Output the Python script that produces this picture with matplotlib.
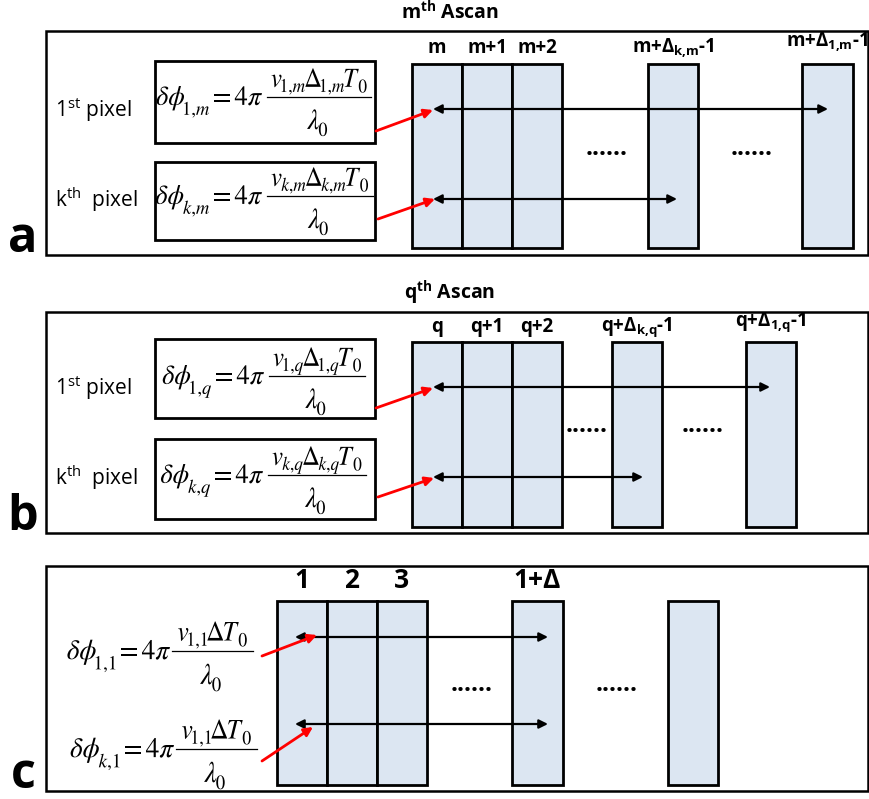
import matplotlib
matplotlib.use("Agg")
import matplotlib.pyplot as plt
from matplotlib.patches import Rectangle, PathPatch
from matplotlib.textpath import TextPath
from matplotlib.transforms import Affine2D
from matplotlib.font_manager import FontProperties

plt.rcParams["font.family"] = ["Open Sans", "DejaVu Sans"]
plt.rcParams["mathtext.fontset"] = "custom"
plt.rcParams["mathtext.rm"] = "Open Sans"
plt.rcParams["mathtext.bf"] = "Open Sans:bold"
plt.rcParams["mathtext.it"] = "Open Sans:italic"

FILL = "#dce6f2"
W, H = 870, 799

# panel layout (pixel coords, y down)
PANELS = ["a", "b", "c"]
OUTER_TOP = [31, 312, 566]
OUTER_BOT = [255, 533, 791]
TITLES = [r"m$^{\mathbf{th}}$ Ascan", r"q$^{\mathbf{th}}$ Ascan", None]
TITLE_Y = [12, 292, None]

# A-scan columns: (x0, x1) per panel
COLS = [
    [(412, 462), (462, 512), (512, 562), (648, 698), (802, 853)],
    [(412, 462), (462, 512), (512, 562), (612, 662), (746, 796)],
    [(277, 327), (327, 377), (377, 427), (512, 563), (668, 718)],
]
COL_TOP = [64, 342, 601]
COL_BOT = [248, 527, 785]
COL_LABELS = [
    ["m", "m+1", "m+2", r"m+Δ$_{\mathbf{k{,}m}}$-1", r"m+Δ$_{\mathbf{1{,}m}}$-1"],
    ["q", "q+1", "q+2", r"q+Δ$_{\mathbf{k{,}q}}$-1", r"q+Δ$_{\mathbf{1{,}q}}$-1"],
    ["1", "2", "3", "1+Δ", None],
]
LABEL_Y = [[48, 48, 48, 48, 42], [327, 327, 327, 327, 322], [580, 580, 580, 580, None]]

# black double arrows (y, x_start, x_end)
ARROWS = [
    [(109, 433, 828), (199, 433, 677)],
    [(387, 433, 770), (477, 433, 643)],
    [(637, 295, 548), (724, 295, 548)],
]
# red arrows (x0, y0, x1, y1)
RED = [
    [(376, 131, 433, 110), (378, 219, 435, 199)],
    [(376, 408, 433, 388), (378, 497, 434, 478)],
    [(262, 656, 317, 635), (262, 761, 313, 727)],
]
DOTS = [[(607, 151), (752, 151)], [(587, 428), (703, 428)], [(472, 687), (617, 687)]]

# equation subscripts: delta-phi subscript, v subscript, Delta subscript
EQ_PHI_SUB = [["1{,}m", "k{,}m"], ["1{,}q", "k{,}q"], ["1{,}1", "k{,}1"]]
EQ_V_SUB = [["1{,}m", "k{,}m"], ["1{,}q", "k{,}q"], ["1{,}1", "1{,}1"]]
EQ_D_SUB = [["1{,}m", "k{,}m"], ["1{,}q", "k{,}q"], [None, None]]
EQ_BAR = [[(267, 97), (267, 196)], [(269, 376), (268, 475)], [(172, 651), (176, 749)]]
BAR_PAD = [9, 9, 12]
LEFT_GAP = [5, 5, 2]
EM_SCALE = [1.0, 1.0, 1.03]
EQ_BOXES = [[(155, 61, 375, 143), (155, 162, 375, 240)],
            [(155, 339, 375, 418), (155, 439, 375, 519)],
            None]
PIX_LABELS = [r"1$^{\mathrm{st}}$ pixel", r"k$^{\mathrm{th}}$  pixel"]
PIX_Y = [[110, 200], [388, 478]]

EM_L, EM_N, EM_D = 27.5, 27.5, 29.0   # glyph sizes (px) of left side, numerator, denominator

fig = plt.figure(figsize=(W / 100, H / 100), dpi=100, facecolor="white")
ax = fig.add_axes([0, 0, 1, 1])
ax.set_xlim(0, W); ax.set_ylim(H, 0); ax.set_axis_off()

PROP = FontProperties(family="DejaVu Serif", math_fontfamily="stix")


def left_tokens(sub):
    # (mathtext, size scale, drop in em, gap after in em)
    return [(r"$\delta\phi$", 1.0, 0.0, 0.0), ("$" + sub + "$", 0.7, 0.36, 0.2),
            ("$=$", 1.0, 0.0, 0.17), (r"$4\pi$", 1.0, 0.0, 0.0)]


def num_tokens(vsub, dsub):
    toks = [("$v$", 1.0, 0.0, 0.0), ("$" + vsub + "$", 0.7, 0.18, 0.02)]
    if dsub:
        toks += [(r"$\Delta$", 1.0, 0.0, 0.0), ("$" + dsub + "$", 0.7, 0.18, 0.02)]
    else:
        toks += [(r"$\Delta$", 1.0, 0.0, 0.03)]
    toks += [("$T$", 1.0, 0.0, 0.0), ("$0$", 0.7, 0.2, 0.0)]
    return toks


DEN_TOKENS = [(r"$\lambda$", 1.0, 0.0, 0.0), ("$0$", 0.68, 0.24, 0.0)]


def layout(tokens, em, sx):
    items, x = [], 0.0
    for s, sc, drop, gap in tokens:
        p = TextPath((0, 0), s, size=em * sc, prop=PROP)
        e = p.get_extents()
        items.append((p, x - e.x0 * sx, drop * em))
        x += e.width * sx + gap * em
    return items, x


def draw_tokens(tokens, em, sx, x, baseline, ha):
    items, w = layout(tokens, em, sx)
    x0 = x - {"left": 0, "right": w, "center": w / 2}[ha]
    for p, dx, dy in items:
        tr = Affine2D().scale(sx, -1).translate(x0 + dx, baseline + dy)
        ax.add_patch(PathPatch(tr.transform_path(p), fc="black", lw=0))
    return w


SX_L = 105 / layout(left_tokens(EQ_PHI_SUB[0][0]), EM_L, 1.0)[1]
SX_N = 95 / layout(num_tokens(EQ_V_SUB[0][0], EQ_D_SUB[0][0]), EM_N, 1.0)[1]
SX_D = 20 / layout(DEN_TOKENS, EM_D, 1.0)[1]


def draw_eq(p, j):
    bx, by = EQ_BAR[p][j]
    k = EM_SCALE[p]
    draw_tokens(left_tokens(EQ_PHI_SUB[p][j]), EM_L * k, SX_L, bx - LEFT_GAP[p],
                by + 8 * k, "right")
    ntok = num_tokens(EQ_V_SUB[p][j], EQ_D_SUB[p][j])
    _, wnum = layout(ntok, EM_N * k, SX_N)
    wbar = wnum + BAR_PAD[p]
    draw_tokens(ntok, EM_N * k, SX_N, bx + wbar / 2, by - 10 * k, "center")
    ax.plot([bx, bx + wbar], [by, by], color="black", lw=0.9)
    draw_tokens(DEN_TOKENS, EM_D * k, SX_D, bx + wbar / 2 - 2, by + 32 * k, "center")


for p in range(3):
    ax.add_patch(Rectangle((46, OUTER_TOP[p]), 822, OUTER_BOT[p] - OUTER_TOP[p],
                           fc="none", ec="black", lw=1.8))
    ax.text(23, OUTER_BOT[p] - 3, PANELS[p], fontsize=35, fontweight="bold",
            ha="center", va="baseline")
    if TITLES[p]:
        ax.text(450, TITLE_Y[p], TITLES[p], fontsize=14, fontweight="bold",
                ha="center", va="center")
    for (x0, x1), lab, ly in zip(COLS[p], COL_LABELS[p], LABEL_Y[p]):
        ax.add_patch(Rectangle((x0, COL_TOP[p]), x1 - x0, COL_BOT[p] - COL_TOP[p],
                               fc=FILL, ec="black", lw=2.0))
        if lab:
            ax.text((x0 + x1) / 2, ly, lab, fontsize=19 if p == 2 else 13.5,
                    fontweight="bold", ha="center", va="center")
    for y, xs, xe in ARROWS[p]:
        ax.annotate("", xy=(xe, y), xytext=(xs, y),
                    arrowprops=dict(arrowstyle="<|-|>", color="black", lw=1.6,
                                    mutation_scale=13, shrinkA=0, shrinkB=0))
    for x0, y0, x1, y1 in RED[p]:
        ax.annotate("", xy=(x1, y1), xytext=(x0, y0),
                    arrowprops=dict(arrowstyle="-|>", color="#ff0000", lw=2.0,
                                    mutation_scale=13, shrinkA=0, shrinkB=0))
    for x, y in DOTS[p]:
        ax.text(x, y + 4, "......", fontsize=18, fontweight="bold",
                ha="center", va="baseline")
    for j in range(2):
        draw_eq(p, j)
        if EQ_BOXES[p]:
            x0, y0, x1, y1 = EQ_BOXES[p][j]
            ax.add_patch(Rectangle((x0, y0), x1 - x0, y1 - y0,
                                   fc="none", ec="black", lw=2.0))
            ax.text(55, PIX_Y[p][j], PIX_LABELS[j], fontsize=15,
                    ha="left", va="center")

fig.savefig("out.png", dpi=100, facecolor="white")
